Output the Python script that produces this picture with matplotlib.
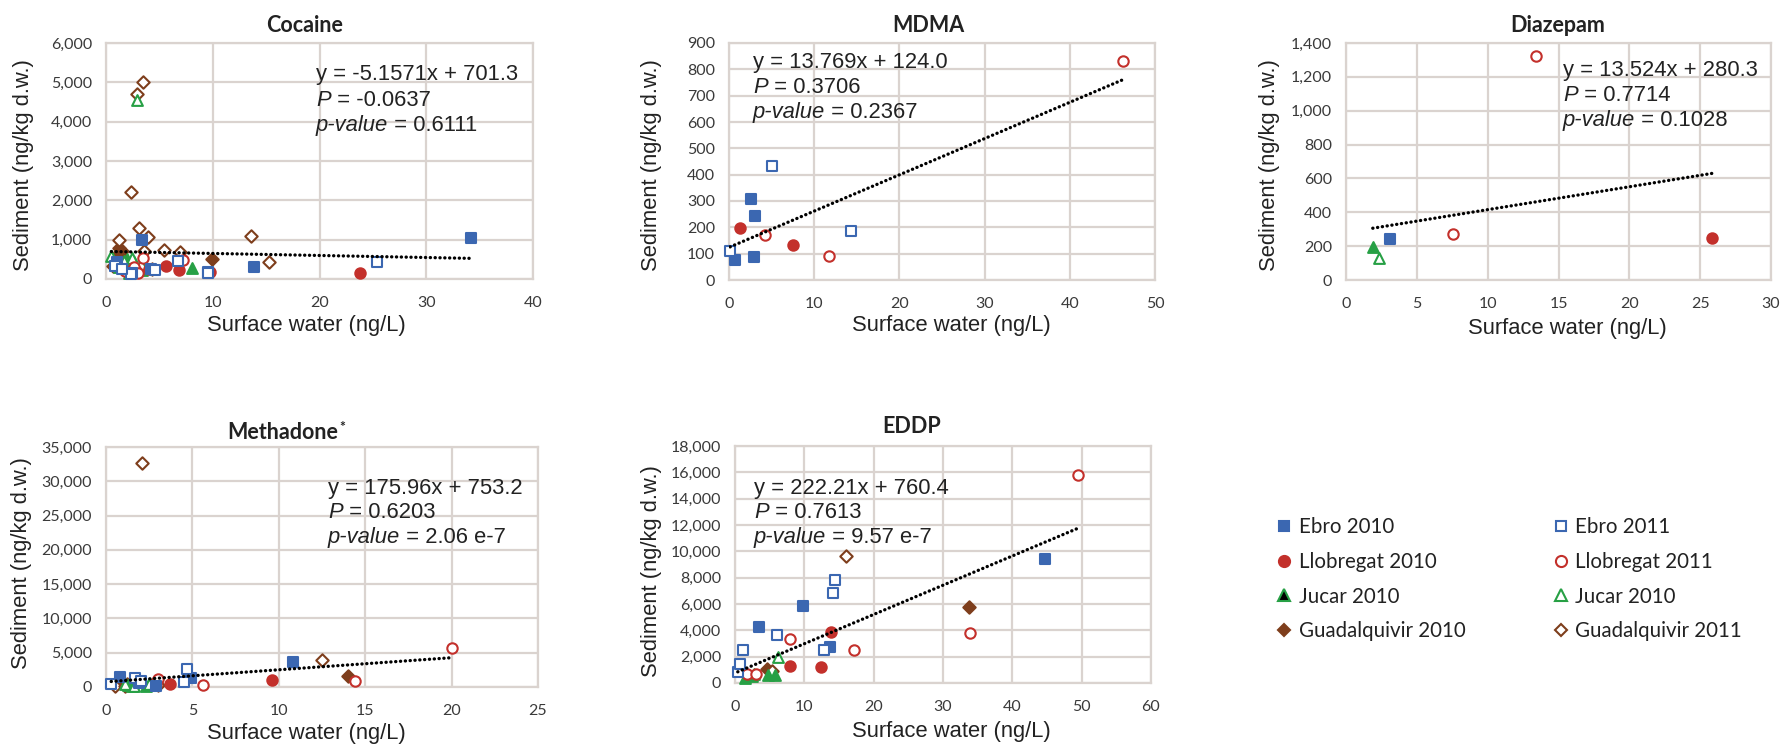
import numpy as np
import matplotlib
matplotlib.use('Agg')
import matplotlib.pyplot as plt
from matplotlib.ticker import FuncFormatter, MultipleLocator
from matplotlib.lines import Line2D

# ------------------------------------------------------------------ data
series_keys = ['ebro10', 'ebro11', 'llob10', 'llob11',
               'jucar10', 'jucar11', 'guad10', 'guad11']
series_labels = ['Ebro 2010', 'Ebro 2011', 'Llobregat 2010', 'Llobregat 2011',
                 'Jucar 2010', 'Jucar 2010', 'Guadalquivir 2010', 'Guadalquivir 2011']

panel_titles = ['Cocaine', 'MDMA', 'Diazepam', 'Methadone', 'EDDP']

cocaine = {
    'ebro10': ([3.4, 13.9, 34.2, 9.6, 2.4, 4.2, 1.0], [980, 300, 1040, 180, 150, 250, 420]),
    'ebro11': ([25.4, 6.7, 4.6, 0.8, 2.3, 9.6, 1.5], [430, 450, 220, 320, 120, 140, 260]),
    'llob10': ([23.8, 5.6, 6.8, 9.7, 2.8, 4.0], [160, 330, 230, 170, 200, 260]),
    'llob11': ([3.5, 7.2, 2.6, 1.8, 3.0], [530, 490, 300, 200, 150]),
    'jucar10': ([8.1, 2.0, 1.6, 2.6, 3.4, 2.2], [290, 500, 350, 420, 220, 160]),
    'jucar11': ([2.9, 0.5, 1.7, 2.4, 3.3, 1.2], [4550, 580, 450, 530, 380, 300]),
    'guad10': ([1.25, 1.0, 1.5, 0.9, 9.9, 4.3], [780, 620, 700, 520, 520, 250]),
    'guad11': ([3.5, 2.9, 2.3, 3.1, 3.9, 1.25, 13.6, 5.4, 6.9, 3.6, 15.3, 0.7],
               [5000, 4700, 2200, 1290, 1080, 1000, 1090, 750, 690, 720, 420, 320]),
}
mdma = {
    'ebro10': ([2.6, 3.05, 0.72, 2.9], [306, 244, 76, 87]),
    'ebro11': ([5.1, 14.3, 0.13], [432, 187, 111]),
    'llob10': ([1.26, 7.55], [197, 133]),
    'llob11': ([46.2, 4.27, 11.7], [830, 172, 91]),
}
diazepam = {
    'ebro10': ([3.14], [242]),
    'llob10': ([25.83], [250]),
    'llob11': ([13.4, 7.57], [1321, 271]),
    'jucar10': ([1.89], [197]),
    'jucar11': ([2.3], [128]),
}
methadone = {
    'ebro10': ([0.8, 4.9, 10.8, 1.9, 2.9], [1500, 1300, 3700, 600, 200]),
    'ebro11': ([0.3, 1.7, 4.7, 4.5, 2.0], [450, 1300, 2600, 780, 900]),
    'llob10': ([3.7, 9.6, 2.9], [450, 1050, 250]),
    'llob11': ([3.0, 5.6, 14.4, 20.0], [1150, 300, 900, 5700]),
    'jucar10': ([1.3, 1.8, 2.3, 1.5], [300, 700, 200, 100]),
    'jucar11': ([1.1, 2.0, 2.5, 1.6], [500, 900, 400, 150]),
    'guad10': ([0.7, 14.0, 0.5, 1.2], [700, 1650, 300, 400]),
    'guad11': ([2.07, 12.5, 0.5, 1.1, 3.0, 2.7], [32600, 3900, 200, 150, 250, 500]),
}
eddp = {
    'ebro10': ([3.4, 9.8, 13.7, 44.7], [4280, 5850, 2770, 9420]),
    'ebro11': ([0.4, 0.65, 1.2, 6.0, 12.9, 14.1, 14.4], [850, 1450, 2470, 3650, 2470, 6820, 7800]),
    'llob10': ([7.9, 12.4, 13.8], [1260, 1190, 3860]),
    'llob11': ([1.7, 3.1, 7.9, 17.1, 33.9, 49.4], [650, 680, 3360, 2530, 3760, 15830]),
    'jucar10': ([1.4, 2.4, 4.8, 5.8], [350, 550, 630, 630]),
    'jucar11': ([2.7, 6.2], [680, 1950]),
    'guad10': ([4.6, 33.7], [1060, 5800]),
    'guad11': ([5.4, 16.0], [880, 9670]),
}
panel_data = [cocaine, mdma, diazepam, methadone, eddp]

slopes = [-5.1571, 13.769, 13.524, 175.96, 222.21]
intercepts = [701.3, 124.0, 280.3, 753.2, 760.4]
eq_texts = ['y = -5.1571x + 701.3', 'y = 13.769x + 124.0', 'y = 13.524x + 280.3',
            'y = 175.96x + 753.2', 'y = 222.21x + 760.4']
pearson_texts = ['-0.0637', '0.3706', '0.7714', '0.6203', '0.7613']
pvalue_texts = ['0.6111', '0.2367', '0.1028', '2.06 e-7', '9.57 e-7']

x_max = [40, 50, 30, 25, 60]
x_step = [10, 10, 5, 5, 10]
y_max = [6000, 900, 1400, 35000, 18000]
y_step = [1000, 100, 200, 5000, 2000]

xlabel_text = 'Surface water (ng/L)'
ylabel_text = 'Sediment (ng/kg d.w.)'

# ------------------------------------------------------------------ style
W, H = 1784, 747
BLUE = '#3B67B1'
RED = '#C3302B'
GREEN = '#27A045'
BROWN = '#7E3E1C'
GRID = '#DAD3CF'
TICK = '#3A3A3A'
TXT = '#222222'

styles = {
    'ebro10': dict(marker='s', face=BLUE, edge=BLUE, s=52),
    'ebro11': dict(marker='s', face='white', edge=BLUE, s=52),
    'llob10': dict(marker='o', face=RED, edge=RED, s=56),
    'llob11': dict(marker='o', face='white', edge=RED, s=56),
    'jucar10': dict(marker='^', face=GREEN, edge=GREEN, s=60),
    'jucar11': dict(marker='^', face='white', edge=GREEN, s=60),
    'guad10': dict(marker='D', face=BROWN, edge=BROWN, s=40),
    'guad11': dict(marker='D', face='white', edge=BROWN, s=40),
}
draw_order = ['guad10', 'guad11', 'jucar10', 'jucar11', 'llob10', 'llob11', 'ebro10', 'ebro11']

plt.rcParams['font.family'] = ['Lato', 'DejaVu Sans']

fig = plt.figure(figsize=(W / 100, H / 100), dpi=100)
renderer = fig.canvas.get_renderer()

# axes boxes in pixels (x0, y0, x1, y1), top-left origin
boxes = [(106, 43, 533, 279), (729, 43, 1155, 280), (1346, 43, 1771, 280),
         (106, 447, 538, 687), (735, 446, 1151, 683)]
title_pos = [(305, 31.5), (928, 31.5), (1558, 31.5), (283, 439), (912, 433)]
xlabel_pos = [(306, 325), (951, 325), (1567, 329), (306, 733), (951, 732)]
ylabel_pos = [(24, 165), (652, 165), (1269, 165), (22, 563), (651, 571)]
eq_pos = [(316, [80, 106, 131]), (753, [68, 93, 118]), (1563, [76, 101, 126]),
          (328, [494, 518, 543]), (754, [494, 518, 543])]


def fx(px):
    return px / W


def fy(py):
    return 1 - py / H


def rich_line(x_px, y_px, parts, size):
    x = x_px
    for txt, style in parts:
        t = fig.text(x / W, fy(y_px), txt, fontsize=size, fontstyle=style,
                     family=['Liberation Sans', 'DejaVu Sans'], color=TXT,
                     va='baseline', ha='left')
        bb = t.get_window_extent(renderer)
        x = bb.x1


thousands = FuncFormatter(lambda v, p: f'{v:,.0f}')

for i, data in enumerate(panel_data):
    x0, y0, x1, y1 = boxes[i]
    ax = fig.add_axes([fx(x0), fy(y1), (x1 - x0) / W, (y1 - y0) / H])
    ax.set_xlim(0, x_max[i])
    ax.set_ylim(0, y_max[i])
    ax.xaxis.set_major_locator(MultipleLocator(x_step[i]))
    ax.yaxis.set_major_locator(MultipleLocator(y_step[i]))
    ax.yaxis.set_major_formatter(thousands)
    ax.grid(True, color=GRID, linewidth=1.6, zorder=0)
    ax.set_axisbelow(True)
    for sp in ax.spines.values():
        sp.set_color(GRID)
        sp.set_linewidth(1.6)
    ax.tick_params(length=0, labelsize=11.5, colors=TICK)
    ax.tick_params(axis='x', pad=12)
    ax.tick_params(axis='y', pad=10)

    all_x = []
    for k in draw_order:
        if k not in data:
            continue
        xs, ys = data[k]
        st = styles[k]
        ax.scatter(xs, ys, s=st['s'], marker=st['marker'], facecolors=st['face'],
                   edgecolors=st['edge'], linewidths=1.5, zorder=3, clip_on=False)
        all_x.extend(xs)
    xr = np.array([min(all_x), max(all_x)])
    ax.plot(xr, slopes[i] * xr + intercepts[i], color='black', linewidth=2.4,
            linestyle=(0, (0.05, 1.4)), dash_capstyle='round', zorder=4)

    # title
    tx, ty = title_pos[i]
    t = fig.text(fx(tx), fy(ty), panel_titles[i], fontsize=15.5, fontweight='bold',
                 color=TXT, ha='center', va='baseline')
    if panel_titles[i] == 'Methadone':
        bb = t.get_window_extent(renderer)
        fig.text(bb.x1 / W + 0.0005, bb.y1 / H + 0.002, '*', fontsize=10,
                 fontweight='bold', color=TXT, ha='left', va='top')

    lx, ly = xlabel_pos[i]
    fig.text(fx(lx), fy(ly), xlabel_text, fontsize=15.8,
             family=['Liberation Sans', 'DejaVu Sans'], color=TXT, ha='center', va='center')
    lx, ly = ylabel_pos[i]
    fig.text(fx(lx), fy(ly), ylabel_text, fontsize=15.8, rotation=90,
             family=['Liberation Sans', 'DejaVu Sans'], color=TXT, ha='center', va='center')

    ex, eys = eq_pos[i]
    rich_line(ex, eys[0], [(eq_texts[i], 'normal')], 15.8)
    rich_line(ex, eys[1], [('P', 'italic'), (' = ' + pearson_texts[i], 'normal')], 15.8)
    rich_line(ex, eys[2], [('p-value', 'italic'), (' = ' + pvalue_texts[i], 'normal')], 15.8)

# legend
legend_order = ['ebro10', 'llob10', 'jucar10', 'guad10', 'ebro11', 'llob11', 'jucar11', 'guad11']
handles, labels = [], []
for k in legend_order:
    st = styles[k]
    face = st['face']
    if k == 'jucar10':
        face = 'black'
    ms = {'s': 7.5, 'o': 8, '^': 8, 'D': 6.5}[st['marker']]
    handles.append(Line2D([], [], linestyle='none', marker=st['marker'], markersize=ms,
                          markerfacecolor=face, markeredgecolor=st['edge'], markeredgewidth=1.5))
    labels.append(series_labels[series_keys.index(k)])

fig.legend(handles, labels, ncol=2, loc='upper left', bbox_to_anchor=(fx(1277), fy(517)),
           frameon=False, fontsize=14.8, handlelength=0.7, handletextpad=0.35,
           columnspacing=4.3, labelspacing=0.72, borderpad=0, borderaxespad=0,
           labelcolor=TXT)

fig.savefig('out.png', dpi=100)
